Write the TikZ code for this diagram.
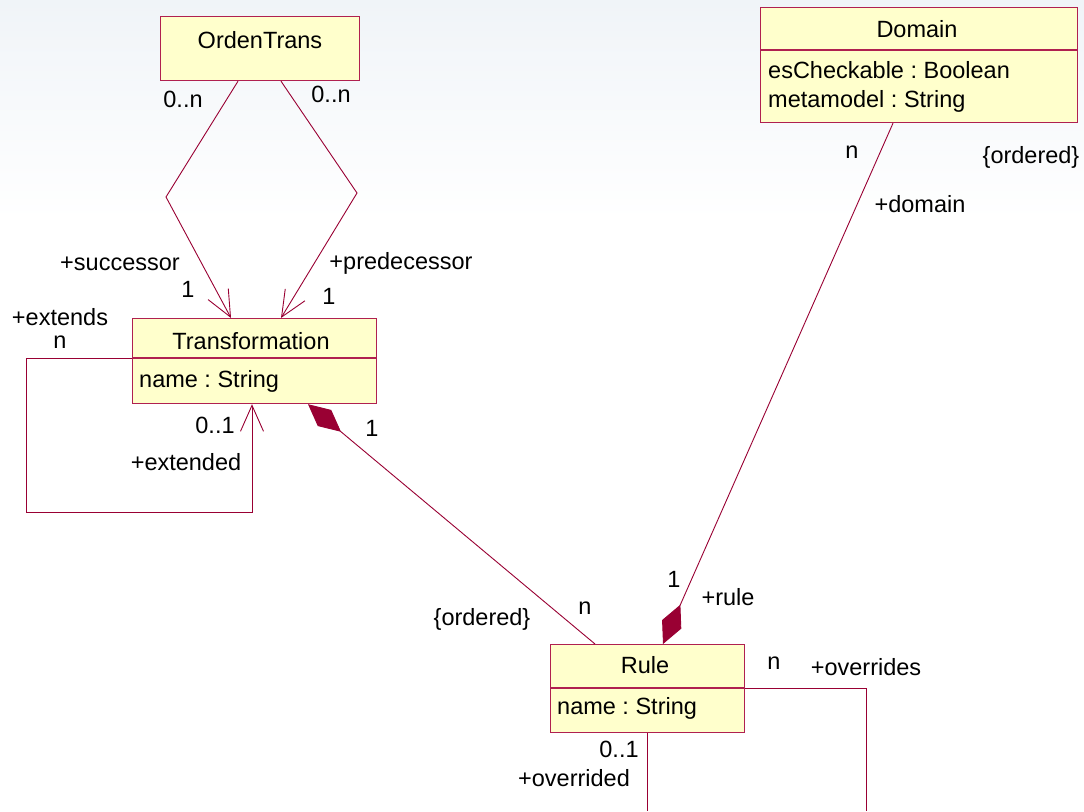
\documentclass[tikz,border=0pt]{standalone}
\usepackage{fontspec}
\setmainfont{Liberation Sans}
\usetikzlibrary{arrows.meta,calc}
\definecolor{umlline}{RGB}{153,0,51}
\definecolor{umlborder}{RGB}{176,32,80}
\definecolor{umlfill}{RGB}{255,255,204}
\definecolor{bgtop}{RGB}{240,244,248}
\begin{document}
\frenchspacing
\begin{tikzpicture}[x=1pt,y=-1pt,
  cls/.style={draw=umlborder, fill=umlfill, line width=1.2pt, inner sep=0pt, anchor=north west},
  divider/.style={draw=umlborder, line width=1.2pt},
  lbl/.style={font=\fontsize{23.5}{28}\selectfont, inner sep=0pt, text=black, text height=16.8pt, text depth=0pt},
  conn/.style={draw=umlline, line width=0.9pt},
  openarr/.style={-{Straight Barb[length=26pt,width=23pt]}},
  comp/.style={{Diamond[length=43pt,width=21pt,fill=umlline]}-}
]
\useasboundingbox (0,0) rectangle (1084,811);
\fill[white] (0,0) rectangle (1084,811);
\fill[top color=bgtop, bottom color=white] (0,0) rectangle (1084,220);

% class boxes
\node[cls, minimum width=199pt, minimum height=64pt] (orden) at (160,16) {};
\node[cls, minimum width=244pt, minimum height=85pt] (trans) at (132,318) {};
\node[cls, minimum width=317pt, minimum height=115pt] (domain) at (760,7) {};
\node[cls, minimum width=194pt, minimum height=88pt] (rule) at (550,644) {};

\draw[divider] (trans.west |- 0,358) -- (trans.east |- 0,358);
\draw[divider] (domain.west |- 0,50) -- (domain.east |- 0,50);
\draw[divider] (rule.west |- 0,688) -- (rule.east |- 0,688);

% class texts
\node[lbl] (tOrden) at (260,40) {OrdenTrans};
\node[lbl] (tTrans) at (251,341) {Transformation};
\node[lbl, anchor=west] (tTransA) at (139,379) {name : String};
\node[lbl] (tDomain) at (917,29) {Domain};
\node[lbl, anchor=west] (tDomA) at (768,70) {esCheckable : Boolean};
\node[lbl, anchor=west] (tDomB) at (768,99) {metamodel : String};
\node[lbl] (tRule) at (645,665) {Rule};
\node[lbl, anchor=west] (tRuleA) at (557,706) {name : String};

% connectors
\draw[conn, openarr] (orden.south -| 238,0) -- (166,197) -- (trans.north -| 231,0);
\draw[conn, openarr] (orden.south -| 281,0) -- (357,193) -- (trans.north -| 281,0);
\draw[conn, openarr] (trans.west |- 0,358) -- (26,358) -- (26,512) -- (252,512) -- (trans.south -| 252,0);
\draw[conn, comp] (trans.south -| 308,0) -- (rule.north -| 595,0);
\draw[conn, comp] (rule.north -| 663,0) -- (domain.south -| 893,0);
\coordinate (ovA) at (866,811);
\coordinate (ovB) at (647,811);
\draw[conn] (rule.east |- 0,688) -- (866,688) -- (ovA);
\draw[conn] (rule.south -| 647,0) -- (ovB);

% labels
\node[lbl] (l1) at (183,99) {0..n};
\node[lbl] (l2) at (331,94) {0..n};
\node[lbl] (l3) at (120,262) {+successor};
\node[lbl] (l4) at (401,261) {+predecessor};
\node[lbl] (l5) at (188,289) {1};
\node[lbl] (l6) at (329,296) {1};
\node[lbl] (l7) at (60,317) {+extends};
\node[lbl] (l8) at (60,340) {n};
\node[lbl] (l9) at (215,425) {0..1};
\node[lbl] (l10) at (186,462) {+extended};
\node[lbl] (l11) at (372,428) {1};
\node[lbl] (l12) at (852,150) {n};
\node[lbl] (l13) at (1031,155) {\{ordered\}};
\node[lbl] (l14) at (920,204) {+domain};
\node[lbl] (l15) at (674,579) {1};
\node[lbl] (l16) at (728,597) {+rule};
\node[lbl] (l17) at (482,617) {\{ordered\}};
\node[lbl] (l18) at (585,606) {n};
\node[lbl] (l19) at (774,661) {n};
\node[lbl] (l20) at (866,667) {+overrides};
\node[lbl] (l21) at (619,749) {0..1};
\node[lbl] (l22) at (574,778) {+overrided};
\end{tikzpicture}
\end{document}
